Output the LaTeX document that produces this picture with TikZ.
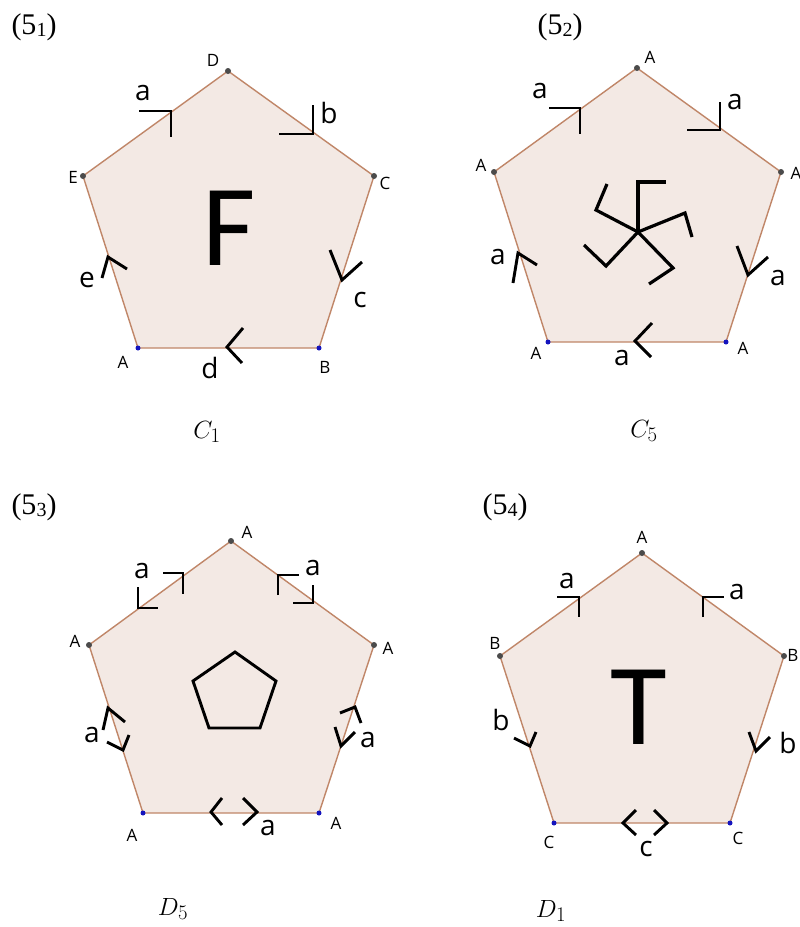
\documentclass[tikz,border=0pt]{standalone}
\usepackage{fontspec}
\setmainfont{Liberation Serif}
\newfontfamily\osans{Open Sans}
\newfontfamily\bigsans{Carlito}
\definecolor{pfill}{RGB}{243,233,228}
\definecolor{pedge}{RGB}{192,134,104}
\definecolor{dotgrey}{RGB}{75,75,75}
\definecolor{dotblue}{RGB}{20,20,190}
\begin{document}
\begin{tikzpicture}[x=1pt,y=-1pt,
  poly/.style={fill=pfill,draw=pedge,line width=1.4pt,line join=round},
  mk/.style={draw=black,line width=2.9pt},
  vlab/.style={font=\osans\fontsize{17}{17}\selectfont,inner sep=0pt},
  elab/.style={font=\osans\fontsize{28}{28}\selectfont,inner sep=0pt},
  plab/.style={font=\fontsize{30}{30}\selectfont,inner sep=0pt},
  captxt/.style={font=\fontsize{31}{31}\selectfont,inner sep=0pt},
  gdot/.style={circle,fill=dotgrey,inner sep=0pt,minimum size=6pt},
  bdot/.style={circle,fill=dotblue,inner sep=0pt,minimum size=5pt},
  bigl/.style={font=\bigsans\fontsize{116}{116}\selectfont,inner sep=0pt}]
\useasboundingbox[fill=white] (0,0) rectangle (800,927);

% ---------------- Panel 1 ----------------
\node[plab] (p1) at (34,27) {(5\raisebox{-2pt}{\fontsize{20}{20}\selectfont 1})};
\coordinate (D1) at (228,71); \coordinate (E1) at (83,176); \coordinate (C1) at (374,176);
\coordinate (A1) at (138,348); \coordinate (B1) at (319,348);
\draw[poly] (A1) -- (B1) -- (C1) -- (D1) -- (E1) -- cycle;
\node[gdot] (dD1) at (D1) {}; \node[gdot] (dE1) at (E1) {}; \node[gdot] (dC1) at (C1) {};
\node[bdot] (dA1) at (A1) {}; \node[bdot] (dB1) at (B1) {};
\node[vlab] (lD1) at (213,60) {D};
\node[vlab] (lE1) at (73,177) {E};
\node[vlab] (lC1) at (385,183) {C};
\node[vlab] (lA1) at (123,362) {A};
\node[vlab] (lB1) at (325,367) {B};
\draw[mk] (139,111) -- (171,111) -- (171,137);
\draw[mk] (313,105) -- (313,134) -- (279,134);
\draw[mk] (330,250) -- (342,280) -- (362,262);
\draw[mk] (243,328) -- (227,347) -- (242,363);
\draw[mk] (102,278) -- (108,257) -- (127,269);
\node[elab] (ea1) at (143,93) {a};
\node[elab] (eb1) at (329,113) {b};
\node[elab] (ec1) at (360,300) {c};
\node[elab] (ed1) at (210,368) {d};
\node[elab] (ee1) at (87,280) {e};
\node[bigl] (F) at (229,228) {F};
\node[captxt] (cap1) at (207,432) {$C_1$};

% ---------------- Panel 2 ----------------
\node[plab] (p2) at (560,27) {(5\raisebox{-2pt}{\fontsize{20}{20}\selectfont 2})};
\coordinate (T2) at (637,68); \coordinate (L2) at (494,172); \coordinate (R2) at (781,172);
\coordinate (BL2) at (548,342); \coordinate (BR2) at (726,342);
\draw[poly] (BL2) -- (BR2) -- (R2) -- (T2) -- (L2) -- cycle;
\node[gdot] (dT2) at (T2) {}; \node[gdot] (dL2) at (L2) {}; \node[gdot] (dR2) at (R2) {};
\node[bdot] (dBL2) at (BL2) {}; \node[bdot] (dBR2) at (BR2) {};
\node[vlab] (lT2) at (650,57) {A};
\node[vlab] (lL2) at (481,165) {A};
\node[vlab] (lR2) at (796,173) {A};
\node[vlab] (lBL2) at (536,353) {A};
\node[vlab] (lBR2) at (743,348) {A};
\draw[mk] (549,108) -- (580,108) -- (580,134);
\draw[mk] (720,102) -- (720,130) -- (687,130);
\draw[mk] (737,246) -- (748,275) -- (768,257);
\draw[mk] (652,323) -- (635,341) -- (651,357);
\draw[mk] (513,283) -- (518,253) -- (537,265);
\node[elab] (ea2) at (540,91) {a};
\node[elab] (eb2) at (735,102) {a};
\node[elab] (ec2) at (778,278) {a};
\node[elab] (ed2) at (622,358) {a};
\node[elab] (ee2) at (498,257) {a};
\coordinate (S) at (638,232);
\draw[mk,line width=3.2pt] (S) -- (638,182) -- (666,182);
\draw[mk,line width=3.2pt] (S) -- (685,213) -- (692,237);
\draw[mk,line width=3.2pt] (S) -- (673,268) -- (649,284);
\draw[mk,line width=3.2pt] (S) -- (606,266) -- (584,245);
\draw[mk,line width=3.2pt] (S) -- (596,210) -- (607,184);
\node[captxt] (cap2) at (644,431) {$C_5$};

% ---------------- Panel 3 ----------------
\node[plab] (p3) at (34,507) {(5\raisebox{-2pt}{\fontsize{20}{20}\selectfont 3})};
\coordinate (T3) at (231,541); \coordinate (L3) at (89,645); \coordinate (R3) at (374,645);
\coordinate (BL3) at (143,813); \coordinate (BR3) at (319,813);
\draw[poly] (BL3) -- (BR3) -- (R3) -- (T3) -- (L3) -- cycle;
\node[gdot] (dT3) at (T3) {}; \node[gdot] (dL3) at (L3) {}; \node[gdot] (dR3) at (R3) {};
\node[bdot] (dBL3) at (BL3) {}; \node[bdot] (dBR3) at (BR3) {};
\node[vlab] (lT3) at (247,532) {A};
\node[vlab] (lL3) at (75,641) {A};
\node[vlab] (lR3) at (388,648) {A};
\node[vlab] (lBL3) at (132,835) {A};
\node[vlab] (lBR3) at (336,823) {A};
\draw[mk] (163,573) -- (183,573) -- (183,594);
\draw[mk] (138,587) -- (138,608) -- (158,608);
\draw[mk] (278,595) -- (278,575) -- (299,575);
\draw[mk] (313,585) -- (313,603) -- (293,603);
\draw[mk] (103,730) -- (108,708) -- (125,722);
\draw[mk] (107,742) -- (123,750) -- (129,735);
\draw[mk] (340,713) -- (355,707) -- (361,723);
\draw[mk] (335,727) -- (341,746) -- (355,732);
\draw[mk] (222,798) -- (211,812) -- (222,825);
\draw[mk] (243,798) -- (257,812) -- (243,825);
\node[elab] (ea3) at (142,571) {a};
\node[elab] (eb3) at (313,568) {a};
\node[elab] (ec3) at (92,735) {a};
\node[elab] (ed3) at (368,740) {a};
\node[elab] (ee3) at (268,828) {a};
\draw[mk,line join=miter] (235,652) -- (276,681) -- (260,728) -- (209,728) -- (193,681) -- cycle;
\node[captxt] (cap3) at (173,909) {$D_5$};

% ---------------- Panel 4 ----------------
\node[plab] (p4) at (505,507) {(5\raisebox{-2pt}{\fontsize{20}{20}\selectfont 4})};
\coordinate (T4) at (642,553); \coordinate (L4) at (500,656); \coordinate (R4) at (784,656);
\coordinate (BL4) at (554,823); \coordinate (BR4) at (730,823);
\draw[poly] (BL4) -- (BR4) -- (R4) -- (T4) -- (L4) -- cycle;
\node[gdot] (dT4) at (T4) {}; \node[gdot] (dL4) at (L4) {}; \node[gdot] (dR4) at (R4) {};
\node[bdot] (dBL4) at (BL4) {}; \node[bdot] (dBR4) at (BR4) {};
\node[vlab] (lT4) at (642,537) {A};
\node[vlab] (lL4) at (495,643) {B};
\node[vlab] (lR4) at (793,655) {B};
\node[vlab] (lBL4) at (549,842) {C};
\node[vlab] (lBR4) at (738,838) {C};
\draw[mk] (557,597) -- (579,597) -- (579,617);
\draw[mk] (703,617) -- (703,597) -- (724,597);
\draw[mk] (514,738) -- (530,746) -- (536,732);
\draw[mk] (749,732) -- (756,751) -- (770,737);
\draw[mk] (636,810) -- (623,823) -- (636,835);
\draw[mk] (654,810) -- (667,823) -- (654,835);
\node[elab] (ea4) at (567,581) {a};
\node[elab] (eb4) at (737,592) {a};
\node[elab] (ec4) at (501,720) {b};
\node[elab] (ed4) at (788,743) {b};
\node[elab] (ee4) at (646,849) {c};
\node[bigl] (Tl) at (639,707) {T};
\node[captxt] (cap4) at (551,911) {$D_1$};
\end{tikzpicture}
\end{document}
